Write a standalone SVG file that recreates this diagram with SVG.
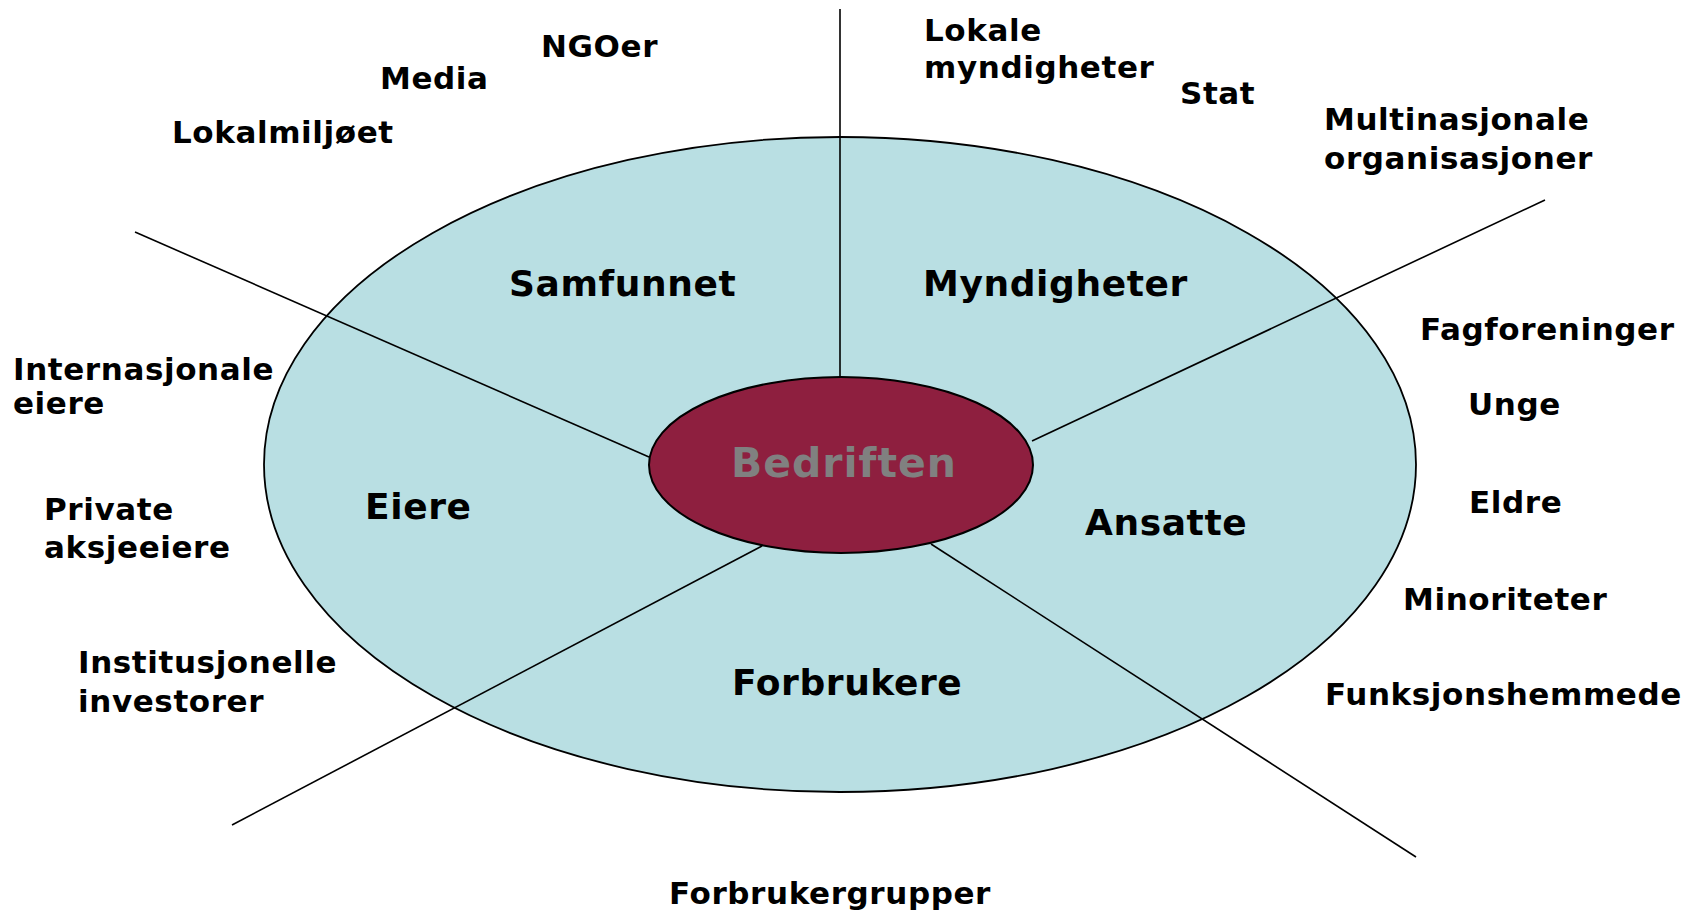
<svg xmlns="http://www.w3.org/2000/svg" width="1699" height="912" viewBox="0 0 1699 912">
<style>
text{font-family:"DejaVu Sans","Verdana",sans-serif;font-weight:bold;fill:#000}
.s{font-size:31px;letter-spacing:0.6px}
.m{font-size:36px;letter-spacing:0.6px}
.b{font-size:41px;letter-spacing:1px;fill:#808080}
.ln{stroke:#000;stroke-width:1.6;fill:none}
</style>
<rect width="1699" height="912" fill="#fff"/>
<g id="outer">
<ellipse cx="840" cy="464.5" rx="576" ry="327.5" fill="#B9DFE3" stroke="#000" stroke-width="1.8"/>
</g>
<g id="connectors">
<line class="ln" x1="840" y1="9" x2="840" y2="377"/>
<line class="ln" x1="135" y1="232" x2="649" y2="457"/>
<line class="ln" x1="1545" y1="200" x2="1032" y2="441"/>
<line class="ln" x1="232" y1="825" x2="762" y2="546"/>
<line class="ln" x1="1416" y1="857" x2="931" y2="544"/>
</g>
<g id="bedriften">
<ellipse cx="841" cy="465" rx="192" ry="88" fill="#8E1F3F" stroke="#000" stroke-width="2"/>
<text class="b" x="844" y="477" text-anchor="middle">Bedriften</text>
</g>
<g id="samfunnet"><text class="m" x="509" y="296">Samfunnet</text></g>
<g id="myndigheter"><text class="m" x="923" y="296">Myndigheter</text></g>
<g id="eiere"><text class="m" x="365" y="519">Eiere</text></g>
<g id="ansatte"><text class="m" x="1085" y="535">Ansatte</text></g>
<g id="forbrukere"><text class="m" x="732" y="695">Forbrukere</text></g>
<g id="ngoer"><text class="s" x="541" y="57">NGOer</text></g>
<g id="media"><text class="s" x="380" y="89">Media</text></g>
<g id="lokalmiljoet"><text class="s" x="172" y="143">Lokalmiljøet</text></g>
<g id="lokale"><text class="s" x="924" y="41">Lokale</text><text class="s" x="924" y="78">myndigheter</text></g>
<g id="stat"><text class="s" x="1180" y="104">Stat</text></g>
<g id="multinasjonale"><text class="s" x="1324" y="130">Multinasjonale</text><text class="s" x="1324" y="169">organisasjoner</text></g>
<g id="fagforeninger"><text class="s" x="1420" y="340">Fagforeninger</text></g>
<g id="unge"><text class="s" x="1468" y="415">Unge</text></g>
<g id="eldre"><text class="s" x="1469" y="513">Eldre</text></g>
<g id="minoriteter"><text class="s" x="1403" y="610">Minoriteter</text></g>
<g id="funksjonshemmede"><text class="s" x="1325" y="705">Funksjonshemmede</text></g>
<g id="internasjonale"><text class="s" x="13" y="380">Internasjonale</text><text class="s" x="13" y="414">eiere</text></g>
<g id="private"><text class="s" x="44" y="520">Private</text><text class="s" x="44" y="558">aksjeeiere</text></g>
<g id="institusjonelle"><text class="s" x="78" y="673">Institusjonelle</text><text class="s" x="78" y="712">investorer</text></g>
<g id="forbrukergrupper"><text class="s" x="669" y="904">Forbrukergrupper</text></g>
</svg>
